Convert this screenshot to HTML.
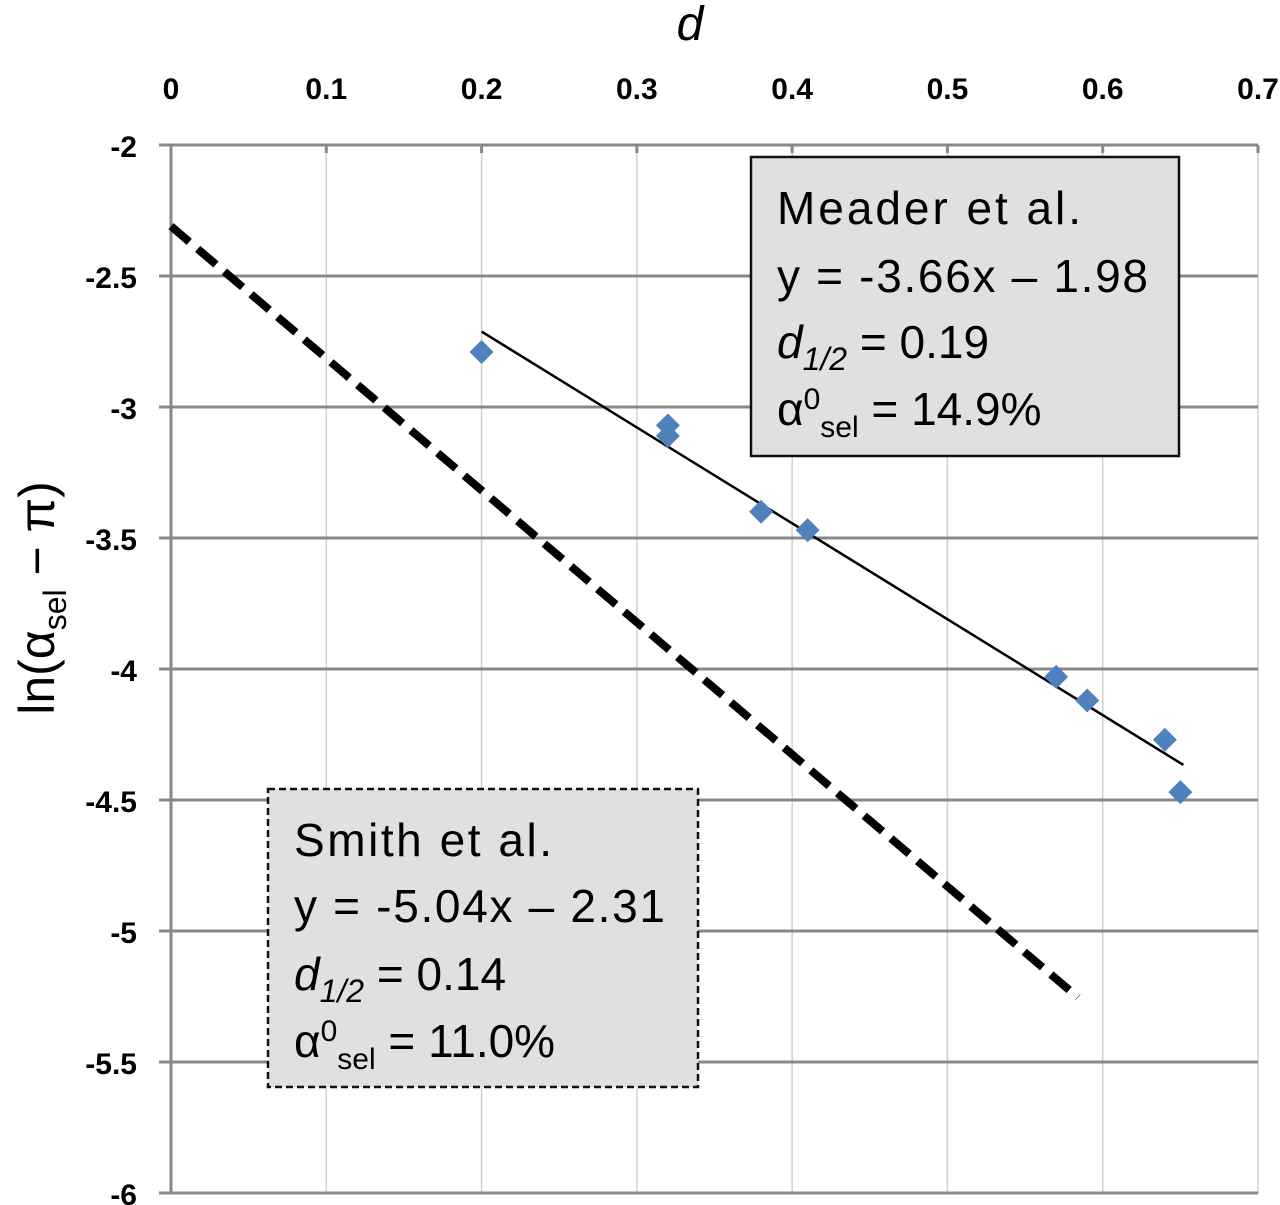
<!DOCTYPE html>
<html><head><meta charset="utf-8"><style>
html,body{margin:0;padding:0;background:#fff;}
svg{display:block;font-family:"Liberation Sans","DejaVu Sans",sans-serif;}
</style></head><body>
<svg id="chart" width="1280" height="1205" viewBox="0 0 1280 1205">
<g id="grid"></g>
<g id="axes"></g>
<g id="lines"></g>
<g id="points"></g>
<text x="690" y="40" font-size="48" font-style="italic" text-anchor="middle">d</text>
<text transform="translate(54,598) rotate(-90)" font-size="50" text-anchor="middle">ln(α<tspan font-size="32" dy="12">sel</tspan><tspan dy="-12"> − π)</tspan></text>
<g>
<rect x="751" y="157" width="428" height="299" fill="#e0e0e0" stroke="#111" stroke-width="2.5"/>
<text x="777" y="224" font-size="46" textLength="304">Meader et al.</text>
<text x="777" y="292" font-size="46" textLength="371">y = -3.66x – 1.98</text>
<text x="777" y="358" font-size="46"><tspan font-style="italic">d</tspan><tspan font-size="32" font-style="italic" dy="12">1/2</tspan><tspan dy="-12"> = 0.19</tspan></text>
<text x="777" y="425" font-size="46">α<tspan font-size="30" dy="-16">0</tspan><tspan font-size="30" dy="28">sel</tspan><tspan dy="-12"> = 14.9%</tspan></text>
</g>
<g>
<rect x="268" y="789" width="430" height="298" fill="#e0e0e0" stroke="#111" stroke-width="2.5" stroke-dasharray="7,4"/>
<text x="294" y="856" font-size="46" textLength="258">Smith et al.</text>
<text x="294" y="922" font-size="46" textLength="371">y = -5.04x – 2.31</text>
<text x="294" y="990" font-size="46"><tspan font-style="italic">d</tspan><tspan font-size="32" font-style="italic" dy="12">1/2</tspan><tspan dy="-12"> = 0.14</tspan></text>
<text x="294" y="1057" font-size="46">α<tspan font-size="30" dy="-16">0</tspan><tspan font-size="30" dy="28">sel</tspan><tspan dy="-12"> = 11.0%</tspan></text>
</g>
</svg>
<script>
const xTicks=[0,0.1,0.2,0.3,0.4,0.5,0.6,0.7];
const xTickLabels=["0","0.1","0.2","0.3","0.4","0.5","0.6","0.7"];
const yTicks=[-2,-2.5,-3,-3.5,-4,-4.5,-5,-5.5,-6];
const yTickLabels=["-2","-2.5","-3","-3.5","-4","-4.5","-5","-5.5","-6"];
const pointX=[0.2,0.32,0.32,0.38,0.41,0.57,0.59,0.64,0.65];
const pointY=[-2.79,-3.07,-3.11,-3.40,-3.47,-4.03,-4.12,-4.27,-4.47];
const meaderSlope=-3.66, meaderIntercept=-1.98, meaderRange=[0.2,0.652];
const smithSlope=-5.04, smithIntercept=-2.31, smithRange=[0,0.584];

const NS="http://www.w3.org/2000/svg";
const X0=171,X1=1258,Y0=145,Y1=1193;
const sx=v=>X0+(v-0)/(0.7-0)*(X1-X0);
const sy=v=>Y0+(-2-v)/(4)*(Y1-Y0);
function mk(tag,attrs,parent){const e=document.createElementNS(NS,tag);for(const k in attrs)e.setAttribute(k,attrs[k]);parent.appendChild(e);return e;}
const grid=document.getElementById('grid'),axes=document.getElementById('axes'),lines=document.getElementById('lines'),pts=document.getElementById('points');
xTicks.forEach((t,i)=>{
  const l=mk('line',{x1:sx(t),x2:sx(t),y1:Y0,y2:Y1,stroke:i===0?'#888':'#d0d0d0','stroke-width':i===0?3:1.5},grid);
  
  
  const tk=mk('line',{x1:sx(t),x2:sx(t),y1:Y0,y2:Y0+8,stroke:'#888','stroke-width':3},axes);
  
  
  const tx=mk('text',{x:sx(t),y:99,'font-size':30,'font-weight':'bold','text-anchor':'middle'},axes);
  tx.textContent=xTickLabels[i];
  
  
});
yTicks.forEach((t,i)=>{
  const l=mk('line',{x1:159,x2:X1,y1:sy(t),y2:sy(t),stroke:'#888','stroke-width':3},grid);
  
  
  const tx=mk('text',{x:137,y:sy(t)+12,'font-size':30,'font-weight':'bold','text-anchor':'end'},axes);
  tx.textContent=yTickLabels[i];
  
  
});
const ml=mk('line',{x1:sx(meaderRange[0]),y1:sy(meaderSlope*meaderRange[0]+meaderIntercept),x2:sx(meaderRange[1]),y2:sy(meaderSlope*meaderRange[1]+meaderIntercept),stroke:'#000','stroke-width':2.5},lines);


const sl=mk('line',{x1:sx(smithRange[0]),y1:sy(smithSlope*smithRange[0]+smithIntercept),x2:sx(smithRange[1]),y2:sy(smithSlope*smithRange[1]+smithIntercept),stroke:'#000','stroke-width':8,'stroke-dasharray':'24,11'},lines);


pointX.forEach((x,i)=>{
  const cx=sx(x),cy=sy(pointY[i]),r=12;
  const p=mk('polygon',{points:`${cx},${cy-r} ${cx+r},${cy} ${cx},${cy+r} ${cx-r},${cy}`,fill:'#4f81bd'},pts);
  
  
});
</script>
</body></html>
